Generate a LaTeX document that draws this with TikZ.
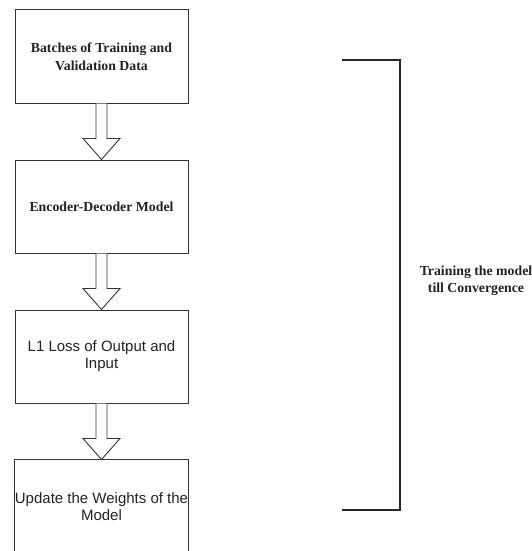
\documentclass[tikz,border=0pt]{standalone}
\usepackage{fontspec}
\setmainfont{Liberation Serif}
\newfontfamily\arialf{Liberation Sans}
\usetikzlibrary{calc}
\definecolor{edge}{HTML}{333333}
\definecolor{txt}{HTML}{222222}
\tikzset{
  box/.style={draw=edge, line width=1pt, minimum width=173pt, minimum height=93pt, inner sep=0pt, align=center, text=txt},
  serifbox/.style={font=\fontsize{13.8}{17.5}\selectfont\bfseries},
  sansbox/.style={font=\arialf\fontsize{15}{17}\selectfont},
  fatarrow/.style={draw=edge, line width=0.9pt, fill=white, line join=miter},
  bracket/.style={draw=black!85, line width=1.8pt}
}
\begin{document}
\begin{tikzpicture}[x=1pt,y=-1pt]
\useasboundingbox (0,0) rectangle (531,551);
\node[box, serifbox] (b1) at (101.5,56.5) {Batches of Training and\\Validation Data};
\node[box, serifbox] (b2) at (101.5,206.5) {Encoder-Decoder Model};
\node[box, sansbox] (b3) at (101.5,356.5) {L1 Loss of Output and\\Input};
\node[box, sansbox, draw=none] (b4) at (101.5,506.5) {Update the Weights of the\\Model};
\draw[edge, line width=1pt] (b4.south west) -- (b4.north west) -- (b4.north east) -- (b4.south east);
\foreach \a/\b in {b1/b2, b2/b3, b3/b4}{
  \draw[fatarrow] ($(\a.south)+(-5.5,0)$) -- ($(\a.south)+(-5.5,35)$) -- ($(\a.south)+(-18.5,35)$)
    -- (\b.north) -- ($(\a.south)+(18.5,35)$) -- ($(\a.south)+(5.5,35)$) -- ($(\a.south)+(5.5,0)$);
}
\coordinate (bt) at (342,60);
\coordinate (bb) at (342,510);
\draw[bracket] (bt) -| ($(bb)+(58,0)$) -- (bb);
\node[serifbox, align=center, text=txt, inner sep=0pt] (lab) at (476,280.5) {Training the model\\till Convergence};
\end{tikzpicture}
\end{document}
